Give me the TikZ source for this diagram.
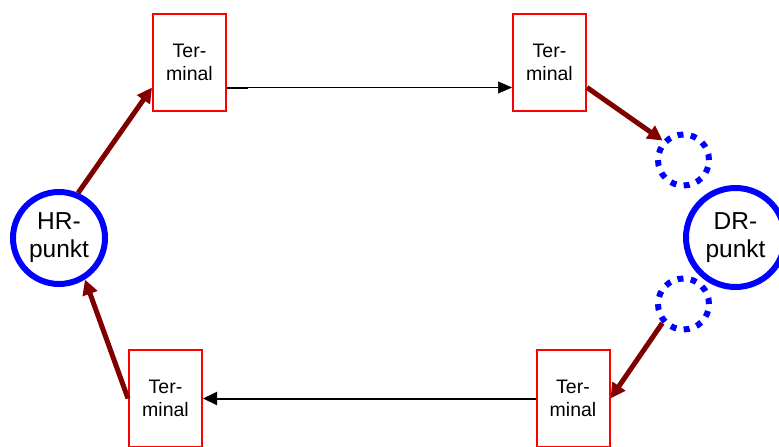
\documentclass[tikz,border=0pt]{standalone}
\usepackage{fontspec}
\setmainfont{Liberation Sans}
\usetikzlibrary{arrows.meta}
\begin{document}
\begin{tikzpicture}[x=1pt,y=-1pt,
  term/.style={draw=red, line width=2pt, fill=white, minimum width=73pt,
    minimum height=97pt, inner sep=0pt, align=center,
    font=\fontsize{19.5}{23.5}\selectfont},
  punkt/.style={circle, draw=blue, line width=6pt, inner sep=0pt, align=center,
    font=\fontsize{24.5}{28}\selectfont},
  ghost/.style={circle, draw=blue, line width=6pt, inner sep=0pt,
    minimum size=51pt, dash pattern=on 6pt off 7.35pt},
  flow/.style={draw=darkred, line width=5pt,
    -{Triangle[length=15pt,width=15pt]}}]
  \useasboundingbox (0,0) rectangle (779,447);

  \definecolor{darkred}{RGB}{128,0,0}

  % Points
  \node[punkt, minimum size=92pt] (hr) at (59,238) {HR-\\punkt};
  \node[punkt, minimum size=99pt] (dr) at (735.5,237.5) {DR-\\punkt};
  \node[ghost] (dt) at (683.5,160) {};
  \node[ghost] (db) at (683.5,304) {};

  % Terminals
  \node[term] (tl) at (189.5,62.5) {Ter-\\minal};
  \node[term] (tr) at (549.5,62.5) {Ter-\\minal};
  \node[term] (bl) at (165.5,398.5) {Ter-\\minal};
  \node[term] (br) at (573,398.5) {Ter-\\minal};

  % Transfers
  \draw[flow] (hr.67) -- ([yshift=-25pt]tl.west);
  \draw[flow] ([yshift=-25pt]tr.east) -- (dt.137);
  \draw[flow] (db.222) -- (br.east);
  \draw[flow] (bl.west) -- (hr.-58);

  % Links between terminals
  \draw[line width=2pt] ([yshift=-25pt]tl.east) -- ++(21,0);
  \draw[line width=0.6pt, -{Triangle[length=14pt,width=12pt]}]
    ([yshift=-25pt]tl.east) -- ([yshift=-25pt]tr.west);
  \draw[line width=2pt, -{Triangle[length=14pt,width=13pt]}] (br.west) -- (bl.east);
\end{tikzpicture}
\end{document}
